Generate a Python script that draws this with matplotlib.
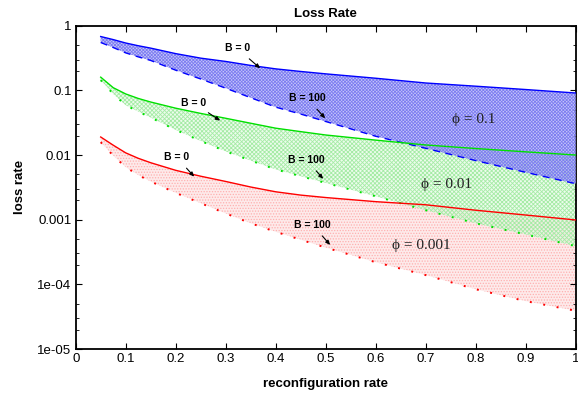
import numpy as np
import matplotlib
matplotlib.use("Agg")
import matplotlib.pyplot as plt
import matplotlib.ticker as mticker

plt.rcParams.update({
    "font.family": "Liberation Sans",
    "font.size": 9.5,
    "hatch.linewidth": 0.6,
})

# ── Data ─────────────────────────────────────────────────────────────────────
rate = [0.05, 0.075, 0.1, 0.125, 0.15, 0.2, 0.25, 0.3, 0.35, 0.4, 0.45,
        0.5, 0.6, 0.7, 0.8, 0.9, 1.0]

# phi = 0.1
blue_b0   = [0.68, 0.61, 0.54, 0.49, 0.45, 0.37, 0.315, 0.28, 0.243, 0.215, 0.196,
             0.18, 0.154, 0.13, 0.116, 0.103, 0.091]
blue_b100 = [0.55, 0.46, 0.38, 0.33, 0.29, 0.205, 0.15, 0.108, 0.077, 0.055, 0.043,
             0.033, 0.0195, 0.0127, 0.0082, 0.0054, 0.0036]
# phi = 0.01
green_b0   = [0.16, 0.11, 0.088, 0.075, 0.066, 0.053, 0.044, 0.037, 0.031, 0.026, 0.023,
              0.0204, 0.017, 0.0143, 0.0126, 0.0112, 0.010]
green_b100 = [0.144, 0.088, 0.059, 0.047, 0.038, 0.0245, 0.0165, 0.0114, 0.0082, 0.006, 0.0047,
              0.0037, 0.0023, 0.0014, 0.00088, 0.00059, 0.00039]
# phi = 0.001
red_b0   = [0.019, 0.0142, 0.0108, 0.0089, 0.0076, 0.0058, 0.0047, 0.0039, 0.0032, 0.0027, 0.0024,
            0.0022, 0.0019, 0.0017, 0.0014, 0.00118, 0.00099]
red_b100 = [0.0158, 0.0098, 0.0065, 0.0049, 0.0039, 0.0026, 0.0018, 0.00125, 0.00088, 0.00065, 0.00049,
            0.00037, 0.00022, 0.000139, 8.4e-5, 5.5e-5, 3.9e-5]

fig = plt.figure(figsize=(5.78, 3.99), dpi=100)
ax = fig.add_axes([75.7 / 578, 1 - 349 / 399, 500 / 578, (349 - 25.7) / 399])

# ── Shaded bands ─────────────────────────────────────────────────────────────
ax.fill_between(rate, red_b100, red_b0, facecolor="#fdeaea", edgecolor="#ffb0b0",
                hatch="." * 6, linewidth=0, zorder=1)
ax.fill_between(rate, green_b100, green_b0, facecolor=(0.88, 0.98, 0.88, 0.6),
                edgecolor="#a5eba5", hatch="x" * 8, linewidth=0, zorder=2)
ax.fill_between(rate, blue_b100, blue_b0, facecolor=(0.68, 0.68, 0.98, 0.7),
                edgecolor="#7d7df0", hatch="x" * 10, linewidth=0, zorder=3)

# ── Curves ───────────────────────────────────────────────────────────────────
ax.plot(rate, blue_b0, color="#0000ff", lw=1.0, zorder=5)
ax.plot(rate, blue_b100, color="#0000ff", lw=1.0, ls=(0, (5, 4)), zorder=5)
ax.plot(rate, green_b0, color="#00e000", lw=1.0, zorder=5)
ax.plot(rate, green_b100, color="#00e000", lw=1.4, ls=(0, (1, 6)), zorder=5)
ax.plot(rate, red_b0, color="#ff0000", lw=1.0, zorder=5)
ax.plot(rate, red_b100, color="#ff0000", lw=1.4, ls=(0, (1, 6)), zorder=5)

# ── Annotations ──────────────────────────────────────────────────────────────
arrow = dict(arrowstyle="-|>,head_length=0.35,head_width=0.15", color="black",
             lw=0.8, shrinkA=3, shrinkB=0)
labels = [
    ("B = 0",   (0.323, 0.447),   (0.369, 0.219)),
    ("B = 100", (0.463, 0.0754),  (0.499, 0.0369)),
    ("B = 0",   (0.235, 0.0646),  (0.289, 0.034)),
    ("B = 100", (0.462, 0.00838), (0.495, 0.00427)),
    ("B = 0",   (0.202, 0.00922), (0.237, 0.00462)),
    ("B = 100", (0.474, 0.000828), (0.509, 0.000406)),
]
for txt, xyt, xy in labels:
    ax.annotate(txt, xy=xy, xytext=xyt, ha="center", va="center",
                fontsize=7.5, fontweight="bold", arrowprops=arrow, zorder=6)

for txt, (x, y) in [("ϕ = 0.1", (0.795, 0.036)),
                    ("ϕ = 0.01", (0.742, 0.00352)),
                    ("ϕ = 0.001", (0.692, 0.000405))]:
    ax.text(x, y, txt, ha="center", va="center", fontsize=11, zorder=6,
            family=["Liberation Serif", "DejaVu Serif"], color="#222222")

# ── Axes ─────────────────────────────────────────────────────────────────────
ax.set_yscale("log")
ax.set_xlim(0, 1)
ax.set_ylim(1e-5, 1)
ax.xaxis.set_major_locator(mticker.MultipleLocator(0.1))
ax.xaxis.set_major_formatter(mticker.FuncFormatter(lambda v, _: f"{v:g}"))
ax.yaxis.set_major_locator(mticker.LogLocator(base=10, numticks=10))
ax.yaxis.set_minor_locator(mticker.LogLocator(base=10, subs=(2, 3, 5), numticks=10))
ylab = {1: "1", 0.1: "0.1", 0.01: "0.01", 0.001: "0.001", 1e-4: "1e-04", 1e-5: "1e-05"}
ax.yaxis.set_major_formatter(mticker.FuncFormatter(
    lambda v, _: min(ylab.items(), key=lambda kv: abs(np.log10(kv[0]) - np.log10(v)))[1]))
ax.yaxis.set_minor_formatter(mticker.NullFormatter())
ax.tick_params(which="both", direction="in", top=True, right=True, labelsize=9.5)
ax.tick_params(which="major", length=4, width=0.8, pad=3)
ax.tick_params(which="minor", length=2, width=0.6)
for s in ax.spines.values():
    s.set_linewidth(1.3)

ax.set_title("Loss Rate", fontweight="bold", fontsize=9.5, pad=6)
ax.set_xlabel("reconfiguration rate", fontweight="bold", fontsize=9.5, labelpad=9)
ax.set_ylabel("loss rate", fontweight="bold", fontsize=9.5, labelpad=8)

fig.savefig("out.png", dpi=100)
